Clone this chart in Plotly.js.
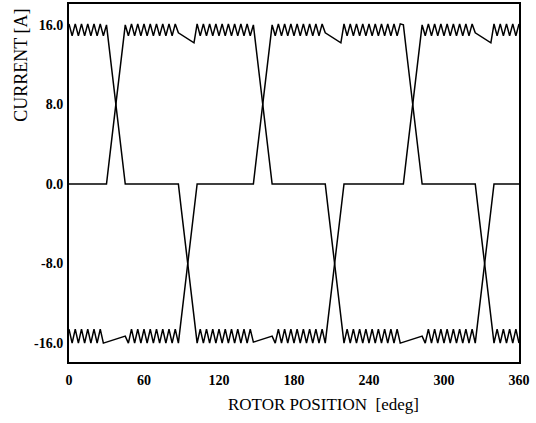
<!DOCTYPE html>
<html>
<head>
<meta charset="utf-8">
<script src="https://cdn.plot.ly/plotly-3.0.1.min.js"></script>
<style>
  html, body { margin: 0; padding: 0; background: #ffffff; }
  #chart { width: 536px; height: 423px; }
</style>
</head>
<body>
<div id="chart"></div>
<script>
// Rotor position grid: samples every 2.5 electrical degrees from 0 to 360
const angleStart = 0;
const angleStep = 2.5;

// Phase currents [A] (one value per 2.5 edeg sample, 145 samples)
const phaseA = [
  16.1,14.9,16.1,14.9,16.1,14.9,16.1,14.9,16.1,14.9,16.1,14.9,
  16.0,13.3,10.7,8.0,5.3,2.7,0,
  0,0,0,0,0,0,0,0,0,0,0,0,0,0,0,0,
  0,-2.7,-5.3,-8.0,-10.7,-13.3,-16.0,
  -14.6,-16.0,-14.6,-16.0,-14.6,-16.0,-14.6,-16.0,-14.6,-16.0,-14.6,-16.0,-14.6,-16.0,-14.6,-16.0,-14.6,
  -15.9,-15.8,-15.7,-15.6,-15.5,-15.4,-15.3,
  -16.0,-14.6,-16.0,-14.6,-16.0,-14.6,-16.0,-14.6,-16.0,-14.6,-16.0,-14.6,-16.0,-14.6,-16.0,-14.6,
  -16.0,-13.3,-10.7,-8.0,-5.3,-2.7,0,
  0,0,0,0,0,0,0,0,0,0,0,0,0,0,0,0,0,0,
  0,2.7,5.3,8.0,10.7,13.3,16.0,
  14.9,16.1,14.9,16.1,14.9,16.1,14.9,16.1,14.9,16.1,14.9,16.1,14.9,16.1,14.9,16.1,
  15.2,15.0,14.8,14.6,14.4,14.2,
  16.1,
  14.9,16.1,14.9,16.1,14.9,16.1,14.9,16.1
];

const phaseB = [
  0,0,0,0,0,0,0,0,0,0,0,0,
  0,2.7,5.3,8.0,10.7,13.3,16.0,
  14.9,16.1,14.9,16.1,14.9,16.1,14.9,16.1,14.9,16.1,14.9,16.1,14.9,16.1,14.9,16.1,
  15.2,15.0,14.8,14.6,14.4,14.2,
  16.1,
  14.9,16.1,14.9,16.1,14.9,16.1,14.9,16.1,14.9,16.1,14.9,16.1,14.9,16.1,14.9,16.1,14.9,
  16.0,13.3,10.7,8.0,5.3,2.7,0,
  0,0,0,0,0,0,0,0,0,0,0,0,0,0,0,0,
  0,-2.7,-5.3,-8.0,-10.7,-13.3,-16.0,
  -14.6,-16.0,-14.6,-16.0,-14.6,-16.0,-14.6,-16.0,-14.6,-16.0,-14.6,-16.0,-14.6,-16.0,-14.6,-16.0,-14.6,-16.0,
  -15.9,-15.8,-15.7,-15.6,-15.5,-15.4,-15.3,
  -16.0,-14.6,-16.0,-14.6,-16.0,-14.6,-16.0,-14.6,-16.0,-14.6,-16.0,-14.6,-16.0,-14.6,-16.0,-14.6,
  -16.0,-13.3,-10.7,-8.0,-5.3,-2.7,0,
  0,0,0,0,0,0,0,0
];

const phaseC = [
  -14.6,-16.0,-14.6,-16.0,-14.6,-16.0,-14.6,-16.0,-14.6,-16.0,-14.6,-16.0,
  -15.9,-15.8,-15.7,-15.6,-15.5,-15.4,-15.3,
  -16.0,-14.6,-16.0,-14.6,-16.0,-14.6,-16.0,-14.6,-16.0,-14.6,-16.0,-14.6,-16.0,-14.6,-16.0,-14.6,
  -16.0,-13.3,-10.7,-8.0,-5.3,-2.7,0,
  0,0,0,0,0,0,0,0,0,0,0,0,0,0,0,0,0,
  0,2.7,5.3,8.0,10.7,13.3,16.0,
  14.9,16.1,14.9,16.1,14.9,16.1,14.9,16.1,14.9,16.1,14.9,16.1,14.9,16.1,14.9,16.1,
  15.2,15.0,14.8,14.6,14.4,14.2,
  16.1,
  14.9,16.1,14.9,16.1,14.9,16.1,14.9,16.1,14.9,16.1,14.9,16.1,14.9,16.1,14.9,16.1,14.9,16.1,
  16.0,13.3,10.7,8.0,5.3,2.7,0,
  0,0,0,0,0,0,0,0,0,0,0,0,0,0,0,0,
  0,-2.7,-5.3,-8.0,-10.7,-13.3,-16.0,
  -14.6,-16.0,-14.6,-16.0,-14.6,-16.0,-14.6,-16.0
];

const xTickVals = [0, 60, 120, 180, 240, 300, 360];
const xTickText = ['0', '60', '120', '180', '240', '300', '360'];
const yTickVals = [-16, -8, 0, 8, 16];
const yTickText = ['-16.0', '-8.0', '0.0', '8.0', '16.0'];
const xLabel = 'ROTOR POSITION&nbsp;&nbsp;[edeg]';
const yLabel = 'CURRENT [A]';

const lineStyle = { color: '#000000', width: 1.5 };
const traces = [phaseA, phaseB, phaseC].map(function (vals) {
  return {
    type: 'scatter',
    mode: 'lines',
    x0: angleStart,
    dx: angleStep,
    y: vals,
    line: lineStyle,
    hoverinfo: 'skip'
  };
});

const serif = 'Liberation Serif, Times New Roman, serif';

const layout = {
  width: 536,
  height: 423,
  margin: { l: 69, r: 17, t: 4, b: 61 },
  paper_bgcolor: '#ffffff',
  plot_bgcolor: '#ffffff',
  showlegend: false,
  xaxis: {
    range: [0, 360],
    tickvals: xTickVals,
    ticktext: xTickText,
    showgrid: false,
    zeroline: false,
    showline: true,
    mirror: true,
    linecolor: '#000000',
    linewidth: 2,
    ticks: '',
    ticklabelstandoff: 4,
    tickfont: { family: serif, size: 14, color: '#000000', weight: 'bold' }
  },
  yaxis: {
    range: [-17.9, 18.1],
    tickvals: yTickVals,
    ticktext: yTickText,
    showgrid: false,
    zeroline: false,
    showline: true,
    mirror: true,
    linecolor: '#000000',
    linewidth: 2,
    ticks: '',
    ticklabelstandoff: 1,
    tickfont: { family: serif, size: 14, color: '#000000', weight: 'bold' }
  },
  annotations: [
    {
      text: xLabel,
      xref: 'paper', yref: 'paper',
      x: 0.565, y: -0.12,
      xanchor: 'center', yanchor: 'middle',
      showarrow: false,
      font: { family: serif, size: 17, color: '#000000' }
    },
    {
      text: yLabel,
      xref: 'paper', yref: 'paper',
      x: -0.107, y: 0.83,
      xanchor: 'center', yanchor: 'middle',
      textangle: -90,
      showarrow: false,
      font: { family: serif, size: 18, color: '#000000' }
    }
  ]
};

Plotly.newPlot('chart', traces, layout, { displayModeBar: false, staticPlot: true });
</script>
</body>
</html>
